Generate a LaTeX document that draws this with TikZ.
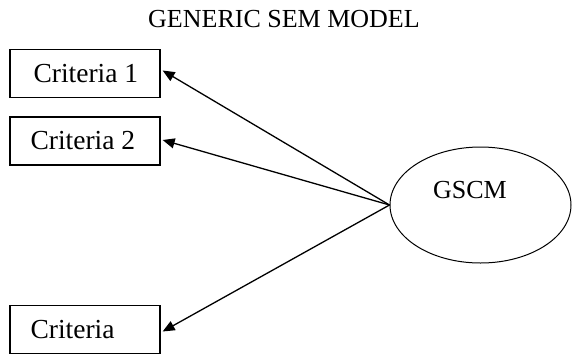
\documentclass[tikz,border=0pt]{standalone}
\usepackage{fontspec}
\setmainfont{Liberation Serif}
\usetikzlibrary{arrows.meta,shapes.geometric}
\begin{document}
\begin{tikzpicture}[x=1pt,y=-1pt,
  crit/.style={draw,line width=1.3pt,minimum height=48pt,minimum width=150pt,inner sep=0pt},
  lat/.style={draw,ellipse,line width=1pt,minimum width=181pt,minimum height=116pt,inner sep=0pt},
  lbl/.style={font=\fontsize{26}{28}\selectfont,inner sep=0pt},
  btxt/.style={font=\fontsize{27.5}{29}\selectfont,inner sep=0pt,anchor=west},
  arr/.style={line width=1.3pt,-{Triangle[length=12pt,width=10pt]}}]
\useasboundingbox (0,0) rectangle (573,354);
\node[lbl] (title) at (284,19) {GENERIC SEM MODEL};
\node[crit] (b1) at (85,73.5) {};
\node[btxt] (t1) at ([xshift=24pt]b1.west) {Criteria 1};
\node[crit] (b2) at (85,141) {};
\node[btxt] (t2) at ([xshift=21pt]b2.west) {Criteria 2};
\node[crit] (b3) at (85,329.5) {};
\node[btxt] (t3) at ([xshift=21pt]b3.west) {Criteria};
\node[lat] (g) at (480.5,205) {};
\node[lbl] (gt) at (470,190) {GSCM};
\draw[arr] (g.west) -- ([xshift=2pt,yshift=3pt]b1.east);
\draw[arr] (g.west) -- ([xshift=2pt,yshift=1pt]b2.east);
\draw[arr] (g.west) -- ([xshift=2pt,yshift=-2pt]b3.east);
\end{tikzpicture}
\end{document}
